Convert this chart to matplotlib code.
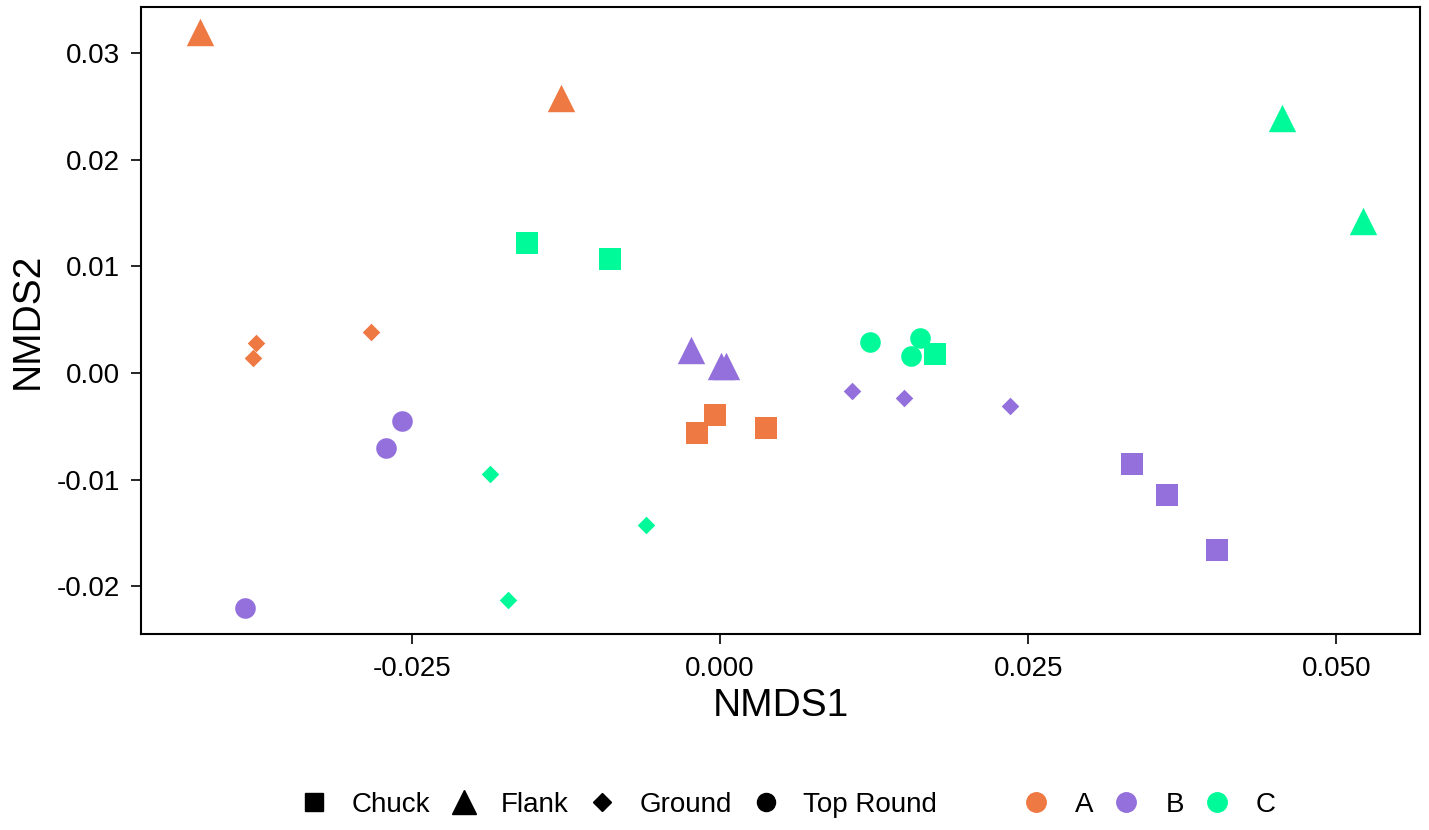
import matplotlib.pyplot as plt
from matplotlib.lines import Line2D

plt.rcParams['font.family'] = ['Liberation Sans', 'DejaVu Sans']

# NMDS scores, one list per field
nmds1 = [-0.0422, -0.0129, -0.0377, -0.0379, -0.0283, -0.0019, -0.0004, 0.0037,
         -0.0024, 0.0001, 0.0005, -0.0258, -0.0271, -0.0386, 0.0107, 0.0149, 0.0235,
         0.0334, 0.0363, 0.0403,
         0.0456, 0.0522, -0.0157, -0.0089, 0.0174, 0.0122, 0.0162, 0.0155,
         -0.0187, -0.0060, -0.0172]
nmds2 = [0.0320, 0.0258, 0.0028, 0.0014, 0.0038, -0.0056, -0.0039, -0.0052,
         0.0022, 0.0007, 0.0007, -0.0045, -0.0070, -0.0220, -0.0017, -0.0023, -0.0031,
         -0.0085, -0.0114, -0.0166,
         0.0239, 0.0143, 0.0122, 0.0107, 0.0018, 0.0029, 0.0033, 0.0016,
         -0.0095, -0.0143, -0.0213]
cut = ['Flank', 'Flank', 'Ground', 'Ground', 'Ground', 'Chuck', 'Chuck', 'Chuck',
       'Flank', 'Flank', 'Flank', 'Top Round', 'Top Round', 'Top Round',
       'Ground', 'Ground', 'Ground', 'Chuck', 'Chuck', 'Chuck',
       'Flank', 'Flank', 'Chuck', 'Chuck', 'Chuck', 'Top Round', 'Top Round', 'Top Round',
       'Ground', 'Ground', 'Ground']
group = ['A'] * 8 + ['B'] * 12 + ['C'] * 11

cuts = ['Chuck', 'Flank', 'Ground', 'Top Round']
groups = ['A', 'B', 'C']

colors = {'A': '#EE7942', 'B': '#9370DB', 'C': '#00FA9A'}
markers = {'Chuck': 's', 'Flank': '^', 'Ground': 'D', 'Top Round': 'o'}
sizes = {'Chuck': 240, 'Flank': 390, 'Ground': 80, 'Top Round': 220}

fig = plt.figure(figsize=(14.29, 8.30), dpi=100)
ax = fig.add_axes([0.0987, 0.2361, 0.8950, 0.7555])

for c in cuts:
    for g in groups:
        xs = [x for x, cc, gg in zip(nmds1, cut, group) if cc == c and gg == g]
        ys = [y for y, cc, gg in zip(nmds2, cut, group) if cc == c and gg == g]
        if xs:
            ax.scatter(xs, ys, marker=markers[c], s=sizes[c], color=colors[g],
                       linewidths=0, zorder=3)

ax.set_xlim(-0.0470, 0.0568)
ax.set_ylim(-0.02448, 0.03433)
ax.set_xticks([-0.025, 0.0, 0.025, 0.05])
ax.set_xticklabels(['-0.025', '0.000', '0.025', '0.050'])
ax.set_yticks([-0.02, -0.01, 0.0, 0.01, 0.02, 0.03])
ax.set_yticklabels(['-0.02', '-0.01', '0.00', '0.01', '0.02', '0.03'])
ax.tick_params(direction='out', length=7, width=1.2, labelsize=20, colors='black')
ax.tick_params(axis='x', pad=9)
ax.tick_params(axis='y', pad=8)
for sp in ax.spines.values():
    sp.set_linewidth(1.5)
ax.set_xlabel('NMDS1', fontsize=28, labelpad=4)
ax.set_ylabel('NMDS2', fontsize=28, labelpad=8)

# legends at the bottom: shapes in black, groups as coloured dots
shape_sizes = {'Chuck': 13, 'Flank': 17, 'Ground': 9, 'Top Round': 13}
shape_handles = [Line2D([], [], marker=markers[c], color='black', linestyle='None',
                        markersize=shape_sizes[c])
                 for c in cuts]
fig.legend(shape_handles, cuts, loc='center', bbox_to_anchor=(0.432, 0.030), ncol=4,
           frameon=False, fontsize=20, handletextpad=0.75, columnspacing=0.6,
           handlelength=1.2)

color_handles = [Line2D([], [], marker='o', color=colors[g], linestyle='None', markersize=14)
                 for g in groups]
fig.legend(color_handles, groups, loc='center', bbox_to_anchor=(0.803, 0.030), ncol=3,
           frameon=False, fontsize=20, handletextpad=0.8, columnspacing=0.6,
           handlelength=1.2)

plt.savefig('out.png', dpi=100)
